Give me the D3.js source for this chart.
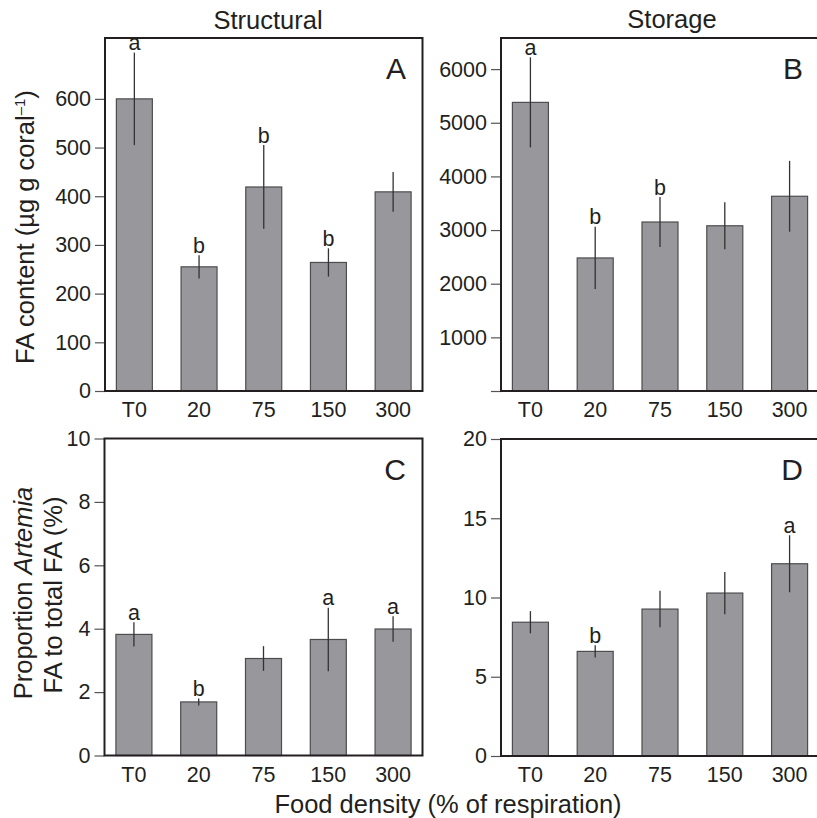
<!DOCTYPE html>
<html>
<head>
<meta charset="utf-8">
<script src="https://cdn.jsdelivr.net/npm/d3@7"></script>
<style>
  html, body { margin: 0; padding: 0; background: #fff; }
  svg { display: block; font-family: "Liberation Sans", Arial, Helvetica, sans-serif; }
  .tick text { fill: #231f20; font-size: 21.5px; }
  .tick line { stroke: #555; stroke-width: 1.2; }
</style>
</head>
<body>
<div id="chart"></div>
<script>
// Food density treatments shared by all four panels.
const categories = ['T0', '20', '75', '150', '300'];

// Panel A: structural FA content (µg g coral-1).
const structContent = [600, 255, 419, 264, 409];
const structContentErr = [95, 24, 86, 29, 41];
const structContentLetters = ['a', 'b', 'b', 'b', ''];

// Panel B: storage FA content (µg g coral-1).
const storageContent = [5380, 2480, 3150, 3080, 3630];
const storageContentErr = [840, 580, 465, 440, 660];
const storageContentLetters = ['a', 'b', 'b', '', ''];

// Panel C: proportion Artemia FA in structural lipids (%).
const structArtemia = [3.82, 1.69, 3.06, 3.66, 3.99];
const structArtemiaErr = [0.38, 0.11, 0.39, 1.0, 0.4];
const structArtemiaLetters = ['a', 'b', '', 'a', 'a'];

// Panel D: proportion Artemia FA in storage lipids (%).
const storageArtemia = [8.44, 6.6, 9.27, 10.28, 12.13];
const storageArtemiaErr = [0.7, 0.38, 1.15, 1.33, 1.8];
const storageArtemiaLetters = ['', 'b', '', '', 'a'];

// Y tick values per panel.
const ticksA = [0, 100, 200, 300, 400, 500, 600];
const ticksB = [0, 1000, 2000, 3000, 4000, 5000, 6000];
const ticksC = [0, 2, 4, 6, 8, 10];
const ticksD = [0, 5, 10, 15, 20];

(function(){
  const W = 817, H = 818;
  const svg = d3.select('#chart').append('svg').attr('width', W).attr('height', H);
  const ink = '#231f20';

  const panels = [
    {id: 'A', x0: 105, x1: 422.5, y0: 38, y1: 391, max: 725, ticks: ticksA, values: structContent, err: structContentErr, letters: structContentLetters, hideZero: false},
    {id: 'B', x0: 501, x1: 819, y0: 38, y1: 391, max: 6580, ticks: ticksB, values: storageContent, err: storageContentErr, letters: storageContentLetters, hideZero: true},
    {id: 'C', x0: 104.5, x1: 422.5, y0: 438.5, y1: 755.5, max: 10, ticks: ticksC, values: structArtemia, err: structArtemiaErr, letters: structArtemiaLetters, hideZero: false},
    {id: 'D', x0: 501, x1: 819, y0: 439, y1: 756, max: 20, ticks: ticksD, values: storageArtemia, err: storageArtemiaErr, letters: storageArtemiaLetters, hideZero: false}
  ];

  panels.forEach(p => {
    const g = svg.append('g').attr('class', 'panel panel-' + p.id);
    const x = d3.scaleBand().domain(categories).range([p.x0, p.x1]).paddingInner(0.444).paddingOuter(0.176);
    const y = d3.scaleLinear().domain([0, p.max]).range([p.y1, p.y0]);
    const rows = categories.map((c, i) => ({c, v: p.values[i], e: p.err[i], l: p.letters[i]}));

    // Bars.
    g.selectAll('rect.bar').data(rows).join('rect')
      .attr('class', 'bar')
      .attr('x', d => x(d.c))
      .attr('width', x.bandwidth())
      .attr('y', d => y(d.v))
      .attr('height', d => y(0) - y(d.v))
      .attr('fill', '#98979c')
      .attr('stroke', '#4d4d4f')
      .attr('stroke-width', 1.2);

    // Error bars (no caps).
    g.selectAll('line.err').data(rows).join('line')
      .attr('class', 'err')
      .attr('x1', d => x(d.c) + x.bandwidth() / 2)
      .attr('x2', d => x(d.c) + x.bandwidth() / 2)
      .attr('y1', d => y(d.v + d.e))
      .attr('y2', d => y(d.v - d.e))
      .attr('stroke', '#333')
      .attr('stroke-width', 1.3);

    // Significance letters.
    g.selectAll('text.sig').data(rows.filter(d => d.l)).join('text')
      .attr('class', 'sig')
      .attr('x', d => x(d.c) + x.bandwidth() / 2)
      .attr('y', d => y(d.v + d.e) - 2.5)
      .attr('text-anchor', 'middle')
      .attr('fill', ink)
      .style('font-size', '21.5px')
      .text(d => d.l);

    // Y axis with outward ticks; frame drawn separately.
    const axis = d3.axisLeft(y).tickValues(p.ticks).tickSize(10).tickPadding(4)
      .tickFormat(d => (p.hideZero && d === 0) ? '' : d);
    g.append('g').attr('transform', `translate(${p.x0},0)`).call(axis)
      .call(a => a.select('.domain').remove());

    // Frame.
    g.append('rect')
      .attr('x', p.x0).attr('y', p.y0)
      .attr('width', p.x1 - p.x0).attr('height', p.y1 - p.y0)
      .attr('fill', 'none').attr('stroke', ink).attr('stroke-width', 2);

    // Category labels.
    g.selectAll('text.cat').data(categories).join('text')
      .attr('class', 'cat')
      .attr('x', d => x(d) + x.bandwidth() / 2)
      .attr('y', p.y1 + 26)
      .attr('text-anchor', 'middle')
      .attr('fill', ink)
      .style('font-size', '21.5px')
      .text(d => d);

    // Panel letter.
    g.append('text')
      .attr('x', p.id === 'A' || p.id === 'C' ? 406 : 803)
      .attr('y', p.y0 + 41)
      .attr('text-anchor', 'end')
      .attr('fill', ink)
      .style('font-size', '30px')
      .text(p.id);
  });

  // Column titles.
  svg.append('text').attr('x', 268).attr('y', 29).attr('text-anchor', 'middle')
    .attr('fill', ink).style('font-size', '25.5px').text('Structural');
  svg.append('text').attr('x', 672).attr('y', 28).attr('text-anchor', 'middle')
    .attr('fill', ink).style('font-size', '25.5px').text('Storage');

  // Y axis title, top row.
  const yTop = svg.append('text')
    .attr('transform', 'translate(34,227) rotate(-90)')
    .attr('text-anchor', 'middle')
    .attr('fill', ink)
    .style('font-size', '25.5px');
  yTop.append('tspan').text('FA content (µg g coral');
  yTop.append('tspan').attr('dy', -9).style('font-size', '15px').text('–1');
  yTop.append('tspan').attr('dy', 9).text(')');

  // Y axis title, bottom row (two lines).
  const yBot1 = svg.append('text')
    .attr('transform', 'translate(32,593) rotate(-90)')
    .attr('text-anchor', 'middle')
    .attr('fill', ink)
    .style('font-size', '25.5px');
  yBot1.append('tspan').text('Proportion ');
  yBot1.append('tspan').style('font-style', 'italic').text('Artemia');
  svg.append('text')
    .attr('transform', 'translate(62,595) rotate(-90)')
    .attr('text-anchor', 'middle')
    .attr('fill', ink)
    .style('font-size', '25.5px')
    .text('FA to total FA (%)');

  // Shared x axis title.
  svg.append('text').attr('x', 448).attr('y', 813).attr('text-anchor', 'middle')
    .attr('fill', ink).style('font-size', '25.5px').text('Food density (% of respiration)');
})();
</script>
</body>
</html>
